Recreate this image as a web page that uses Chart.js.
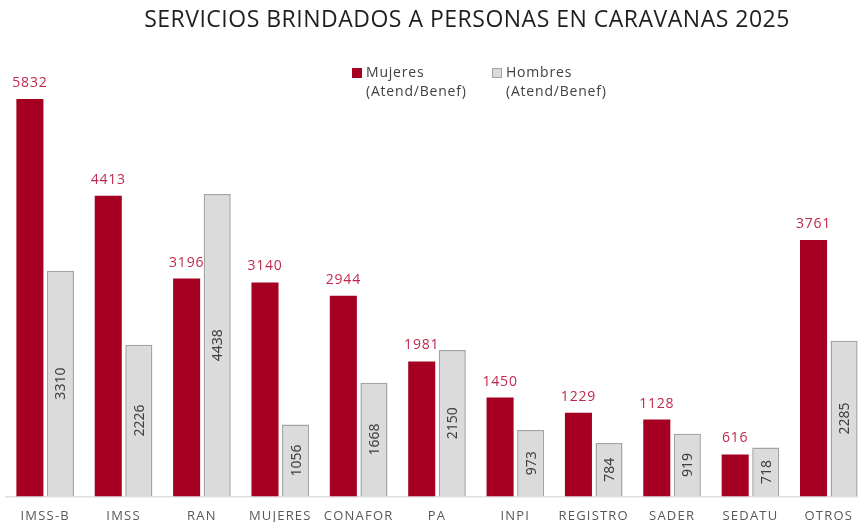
<!DOCTYPE html>
<html>
<head>
<meta charset="utf-8">
<title>Servicios brindados a personas en caravanas 2025</title>
<script src="https://cdn.jsdelivr.net/npm/chart.js@4"></script>
<style>
  html, body { margin: 0; padding: 0; background: #fff; overflow: hidden; }
  #wrap { position: relative; width: 868px; height: 537px; }
</style>
</head>
<body>
<div id="wrap"><canvas id="servChart"></canvas></div>
<script>
const categories = ['IMSS-B', 'IMSS', 'RAN', 'MUJERES', 'CONAFOR', 'PA', 'INPI', 'REGISTRO', 'SADER', 'SEDATU', 'OTROS'];
const mujeres = [5832, 4413, 3196, 3140, 2944, 1981, 1450, 1229, 1128, 616, 3761];
const hombres = [3310, 2226, 4438, 1056, 1668, 2150, 973, 784, 919, 718, 2285];
const seriesNames = [['Mujeres', '(Atend/Benef)'], ['Hombres', '(Atend/Benef)']];
const chartTitle = 'SERVICIOS BRINDADOS A PERSONAS EN CARAVANAS 2025';

const RED = '#A50021';
const GRAY = '#DBDBDB';
const GRAY_BORDER = '#A3A3A3';

// wider letter spacing, like the original office chart
const spacingPlugin = {
    id: 'spacing',
    beforeDraw(chart) {
        chart.ctx.letterSpacing = '1.2px';
    },
    afterDraw(chart) {
        chart.ctx.letterSpacing = '0px';
    }
};

// title, two-line legend and value labels
const decorPlugin = {
    id: 'decor',
    afterDraw(chart) {
        const ctx = chart.ctx;
        ctx.save();

        // title
        ctx.letterSpacing = '0.5px';
        ctx.fillStyle = '#1f1f1f';
        ctx.font = '23px "Open Sans", sans-serif';
        ctx.textAlign = 'center';
        ctx.textBaseline = 'middle';
        ctx.fillText(chartTitle, 467, 20);

        // legend
        ctx.letterSpacing = '0.8px';
        ctx.font = '14px "Open Sans", sans-serif';
        ctx.textAlign = 'left';
        const legendX = [352, 492];
        chart.data.datasets.forEach(function(ds, i) {
            const x = legendX[i];
            ctx.fillStyle = ds.backgroundColor;
            ctx.fillRect(x, 68, 10, 10);
            if (i === 1) {
                ctx.strokeStyle = GRAY_BORDER;
                ctx.lineWidth = 1;
                ctx.strokeRect(x + 0.5, 68.5, 9, 9);
            }
            ctx.fillStyle = '#404040';
            ctx.fillText(ds.label[0], x + 14, 73);
            ctx.fillText(ds.label[1], x + 14, 92);
        });

        // red values above bars
        const metaM = chart.getDatasetMeta(0);
        ctx.letterSpacing = '0.8px';
        ctx.font = '14px "Open Sans", sans-serif';
        ctx.fillStyle = '#C0294C';
        ctx.textAlign = 'center';
        metaM.data.forEach(function(bar, i) {
            ctx.fillText(String(mujeres[i]), bar.x, bar.y - 16);
        });

        // gray values rotated inside bars
        const metaH = chart.getDatasetMeta(1);
        ctx.letterSpacing = '0px';
        ctx.font = '14px "Noto Sans", sans-serif';
        ctx.fillStyle = '#404040';
        metaH.data.forEach(function(bar, i) {
            ctx.save();
            ctx.translate(bar.x, (bar.y + bar.base) / 2);
            ctx.rotate(-Math.PI / 2);
            ctx.fillText(String(hombres[i]), 0, 1);
            ctx.restore();
        });

        ctx.restore();
    }
};

const ctx = document.getElementById('servChart').getContext('2d');
new Chart(ctx, {
    type: 'bar',
    data: {
        labels: categories,
        datasets: [{
            label: seriesNames[0],
            data: mujeres,
            backgroundColor: RED,
            borderWidth: 0,
            categoryPercentage: 0.78,
            barPercentage: 0.885
        }, {
            label: seriesNames[1],
            data: hombres,
            backgroundColor: GRAY,
            borderColor: GRAY_BORDER,
            borderWidth: 1.5,
            categoryPercentage: 0.78,
            barPercentage: 0.885
        }]
    },
    options: {
        responsive: true,
        maintainAspectRatio: false,
        animation: false,
        layout: {
            padding: { top: 87.5, left: 6, right: 0, bottom: 0 }
        },
        plugins: {
            legend: { display: false },
            title: { display: false },
            tooltip: { enabled: false }
        },
        scales: {
            y: {
                display: false,
                min: 0,
                max: 6000
            },
            x: {
                grid: { display: false, drawTicks: false },
                border: { display: true, color: '#E0E0E0', width: 1.5 },
                ticks: {
                    color: '#595959',
                    padding: 12.5,
                    font: { family: '"Open Sans", sans-serif', size: 13 }
                }
            }
        }
    },
    plugins: [spacingPlugin, decorPlugin]
});
</script>
</body>
</html>
